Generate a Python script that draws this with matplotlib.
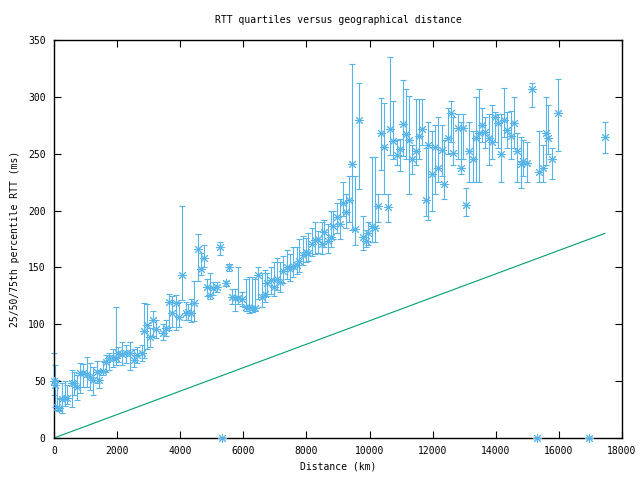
import matplotlib
matplotlib.use("Agg")
import matplotlib.pyplot as plt

# ── Data (km, ms) ────────────────────────────────────────────────────────
distance_km = [
    0, 30, 85, 160, 240, 350, 410, 560, 630, 730, 820, 920, 1040, 1140, 1240,
    1350, 1420, 1560, 1650, 1750, 1880, 1960, 2030, 2140, 2280, 2410, 2540,
    2630, 2780, 2850, 2950, 3040, 3140, 3230, 3440, 3550, 3640, 3740, 3860,
    3960, 4060, 4170, 4250, 4340, 4440, 4550, 4660, 4750, 4850, 4940, 5040,
    5150, 5260, 5320, 5450, 5550, 5640, 5740, 5830, 5960, 6070, 6180, 6280,
    6370, 6450, 6580, 6690, 6760, 6870, 6970, 7060, 7160, 7260, 7370, 7480,
    7580, 7690, 7770, 7880, 7990, 8060, 8170, 8270, 8370, 8480, 8560, 8670,
    8770, 8850, 8970, 9060, 9170, 9250, 9350, 9450, 9540, 9670, 9780, 9890,
    9960, 10070, 10170, 10270, 10370, 10460, 10570, 10650, 10750, 10860,
    10970, 11060, 11160, 11250, 11350, 11460, 11570, 11670, 11780, 11850,
    11970, 12070, 12170, 12290, 12360, 12480, 12570, 12640, 12790, 12890,
    12960, 13060, 13150, 13270, 13370, 13470, 13560, 13660, 13780, 13870,
    13980, 14070, 14170, 14260, 14360, 14470, 14580, 14670, 14790, 14860,
    14980, 15150, 15310, 15370, 15490, 15580, 15650, 15770, 15970, 16950,
    17460,
]
rtt_p50 = [
    50, 47, 27, 26, 34, 35, 35, 48, 48, 45, 57, 57, 56, 54, 51,
    58, 51, 59, 67, 70, 70, 70, 75, 74, 75, 75, 69,
    73, 75, 94, 99, 89, 104, 96, 92, 97, 120, 110, 119,
    106, 143, 110, 111, 110, 119, 166, 149, 158, 133, 126, 132,
    133, 168, 0, 136, 150, 124, 123, 123, 122, 115, 115, 114,
    114, 143, 124, 127, 136, 139, 133, 140, 137, 147, 150, 149,
    151, 152, 156, 161, 164, 163, 171, 174, 175, 171, 181, 173,
    177, 186, 194, 188, 207, 199, 209, 241, 184, 280, 177, 173,
    180, 186, 185, 204, 268, 256, 203, 272, 261, 249,
    254, 276, 267, 262, 245, 252, 266, 272, 209, 258,
    232, 256, 237, 253, 223, 264, 286, 251, 273, 237,
    273, 205, 252, 245, 264, 268, 275, 269, 264, 260,
    282, 277, 250, 280, 271, 266, 277, 252, 241, 244,
    242, 307, 0, 234, 237, 268, 264, 245, 286, 0,
    265,
]
rtt_p25 = [
    38, 27, 25, 24, 22, 28, 30, 27, 38, 33, 40, 45, 45, 42, 38,
    48, 44, 55, 58, 60, 62, 64, 67, 64, 66, 60, 62,
    66, 68, 70, 78, 80, 90, 88, 86, 90, 95, 98, 95,
    98, 121, 104, 104, 102, 103, 138, 143, 150, 125, 122, 126,
    128, 161, 0, 134, 147, 118, 112, 118, 116, 112, 110, 111,
    112, 122, 115, 120, 125, 127, 125, 130, 128, 136, 140, 138,
    142, 144, 146, 152, 155, 156, 160, 162, 163, 162, 168, 163,
    168, 175, 180, 175, 195, 185, 190, 183, 170, 219, 165, 168,
    170, 172, 172, 190, 236, 215, 190, 249, 245, 240,
    235, 248, 245, 215, 232, 240, 245, 258, 195, 192,
    200, 215, 225, 230, 210, 250, 260, 240, 245, 232,
    245, 195, 225, 225, 225, 225, 260, 255, 240, 245,
    260, 255, 225, 265, 255, 245, 255, 225, 220, 230,
    225, 291, 0, 225, 225, 240, 250, 228, 252, 0,
    251,
]
rtt_p75 = [
    75, 64, 51, 35, 48, 50, 47, 60, 58, 55, 66, 65, 71, 66, 62,
    68, 60, 68, 73, 75, 78, 115, 80, 84, 82, 84, 78,
    80, 82, 119, 118, 97, 112, 104, 100, 104, 127, 125, 126,
    120, 204, 120, 118, 122, 138, 179, 163, 170, 140, 145, 137,
    137, 172, 0, 138, 153, 131, 131, 150, 128, 140, 142, 142,
    140, 150, 145, 148, 145, 150, 155, 158, 155, 160, 165, 162,
    168, 168, 175, 178, 176, 180, 185, 190, 182, 190, 192, 188,
    200, 200, 207, 210, 225, 215, 230, 329, 230, 312, 195, 183,
    190, 247, 247, 215, 299, 295, 215, 335, 296, 262,
    263, 315, 307, 301, 258, 298, 298, 298, 255, 278,
    270, 275, 282, 275, 262, 290, 296, 282, 285, 278,
    285, 220, 278, 270, 300, 307, 290, 282, 285, 293,
    287, 285, 285, 308, 287, 288, 300, 268, 265, 262,
    260, 312, 0, 270, 258, 300, 293, 255, 316, 0,
    278,
]

# propagation lower bound
bound_km = [0, 17460]
bound_ms = [0, 180]

BLUE = "#56b4e9"
GREEN = "#009e73"
FONT = "DejaVu Sans Mono"

plt.rcParams["font.family"] = FONT
plt.rcParams["font.size"] = 7

fig = plt.figure(figsize=(6.4, 4.8), dpi=100)
ax = fig.add_axes([54 / 640, 42 / 480, 568 / 640, 398 / 480])

lo = [m - l for m, l in zip(rtt_p50, rtt_p25)]
hi = [h - m for m, h in zip(rtt_p50, rtt_p75)]

ax.errorbar(distance_km, rtt_p50, yerr=[lo, hi], fmt="none", ecolor=BLUE,
            elinewidth=0.8, capsize=2.5, capthick=0.8, clip_on=False, zorder=2)
ax.plot(distance_km, rtt_p50, linestyle="none", marker=(8, 2, 0),
        markersize=6.5, markeredgewidth=0.7, color=BLUE, clip_on=False, zorder=3)
ax.plot(bound_km, bound_ms, color=GREEN, lw=0.8, zorder=2)

ax.set_xlim(0, 18000)
ax.set_ylim(0, 350)
ax.set_xticks(range(0, 18001, 2000))
ax.set_yticks(range(0, 351, 50))
ax.tick_params(direction="in", length=5, width=0.8, top=True, right=True,
               labelsize=7, pad=6)
for s in ax.spines.values():
    s.set_linewidth(1.0)

ax.set_title("RTT quartiles versus geographical distance", fontsize=7, pad=12)
ax.set_xlabel("Distance (km)", fontsize=7, labelpad=4)
ax.set_ylabel("25/50/75th percentile RTT (ms)", fontsize=7, labelpad=6)

fig.savefig("out.png", dpi=100)
